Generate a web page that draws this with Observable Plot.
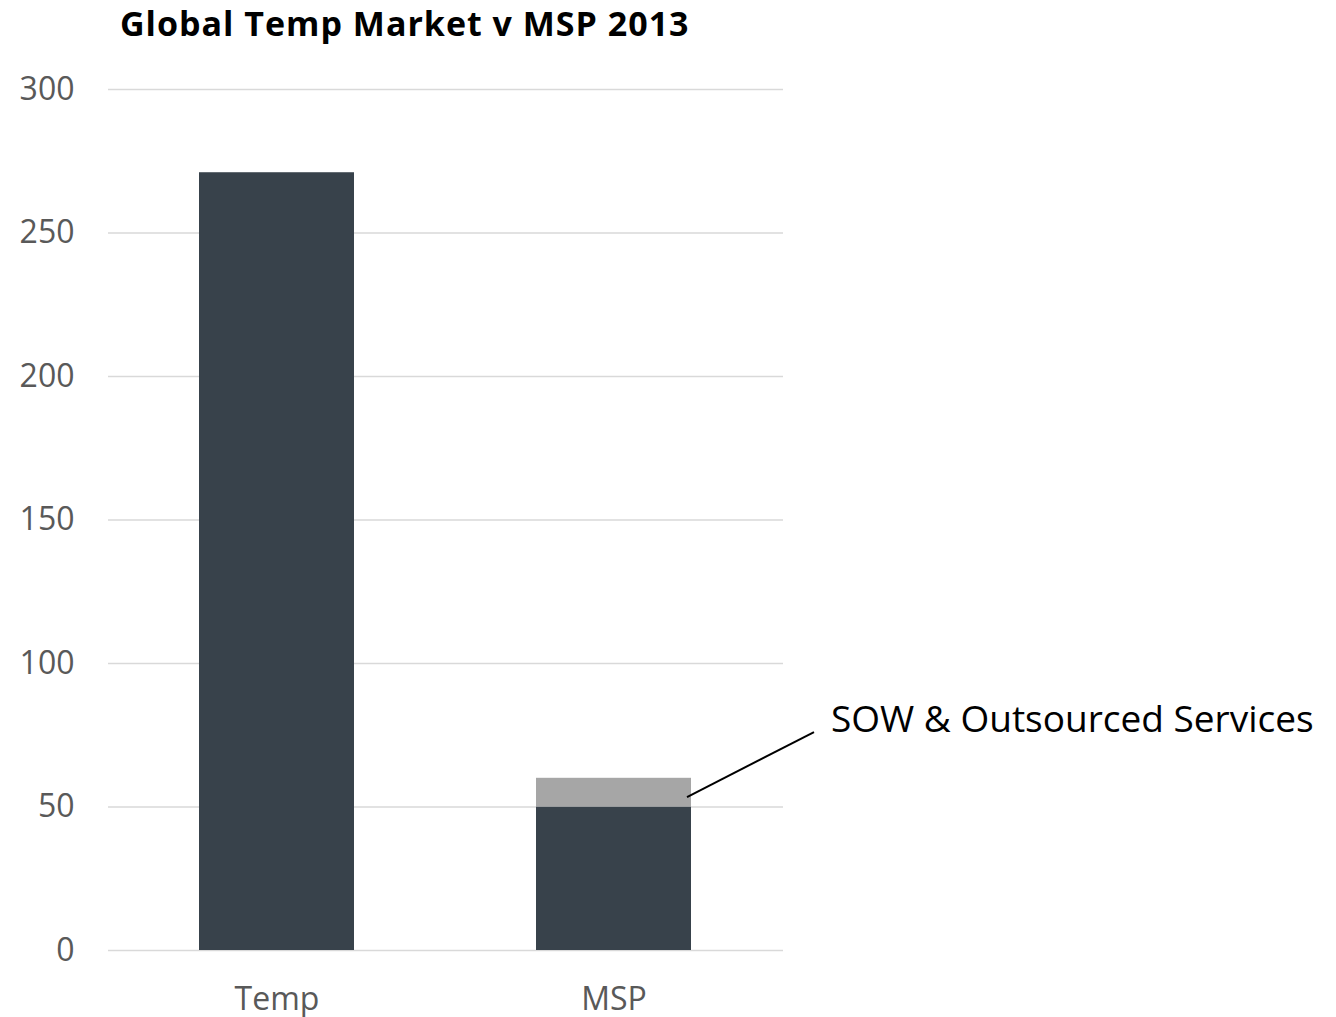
<!DOCTYPE html>
<html>
<head>
<meta charset="utf-8">
<script src="https://cdn.jsdelivr.net/npm/d3@7"></script>
<script src="https://cdn.jsdelivr.net/npm/@observablehq/plot@0.6"></script>
<style>
  html, body { margin: 0; padding: 0; background: #fff; }
  #wrap { position: relative; width: 1336px; height: 1017px; }
  #title { position: absolute; left: 120px; top: 0px; line-height: 1.4; font-family: "Open Sans", sans-serif; font-weight: 700; font-size: 34px; letter-spacing: 1px; color: #000; white-space: nowrap; }
  #chart { position: absolute; left: 0; top: 60px; }
</style>
</head>
<body>
<div id="wrap">
  <div id="title">Global Temp Market v MSP 2013</div>
  <div id="chart"></div>
</div>
<script>
const categories = ["Temp", "MSP"];
const segments = ["Core", "SOW & Outsourced Services"];
const coreValues = [271, 50];
const sowValues = [0, 10];
const yTicks = [0, 50, 100, 150, 200, 250, 300];
const annotationLabel = "SOW & Outsourced Services";

const rows = [];
categories.forEach((c, i) => {
  rows.push({cat: c, seg: segments[0], value: coreValues[i]});
  if (sowValues[i] > 0) rows.push({cat: c, seg: segments[1], value: sowValues[i]});
});

const W = 1336, H = 957;
const plot = Plot.plot({
  width: W,
  height: H,
  marginTop: 29,
  marginBottom: 67,
  marginLeft: 108,
  marginRight: 553,
  style: {fontFamily: "'Open Sans', sans-serif", fontSize: "32px", color: "#595959", background: "#fff", overflow: "visible"},
  x: {domain: categories, paddingInner: 0.54, paddingOuter: 0.27, label: null},
  y: {domain: [0, 300], ticks: yTicks, label: null},
  color: {domain: segments, range: ["#38424b", "#a6a6a6"]},
  marks: [
    Plot.ruleY(yTicks, {stroke: "#d9d9d9", strokeWidth: 1.5}),
    Plot.barY(rows, Plot.stackY({x: "cat", y: "value", fill: "seg", order: segments})),
    Plot.axisX({tickSize: 0, tickPadding: 37, fontSize: 32, fill: "#595959"}),
    Plot.axisY({ticks: yTicks, tickSize: 0, tickPadding: 34, fontSize: 32, fill: "#595959"})
  ]
});

document.getElementById("chart").appendChild(plot);

// Annotation leader line, anchored via the plot's own scales
const xs = plot.scale("x"), ys = plot.scale("y");
const svg = d3.select(plot);
const x0 = xs.apply("MSP") + xs.bandwidth - 4;
const y0 = ys.apply(coreValues[1] + sowValues[1] * 0.33);
const x1 = x0 + 127, y1 = y0 - 65;
svg.append("line")
  .attr("x1", x0).attr("y1", y0).attr("x2", x1).attr("y2", y1)
  .attr("stroke", "#000").attr("stroke-width", 2);
svg.append("text")
  .attr("x", x1 + 17).attr("y", y1 - 10)
  .attr("text-anchor", "start")
  .attr("dominant-baseline", "middle")
  .attr("font-family", "'Open Sans', sans-serif")
  .attr("font-size", 37)
  .attr("fill", "#000")
  .text(annotationLabel);
</script>
</body>
</html>
